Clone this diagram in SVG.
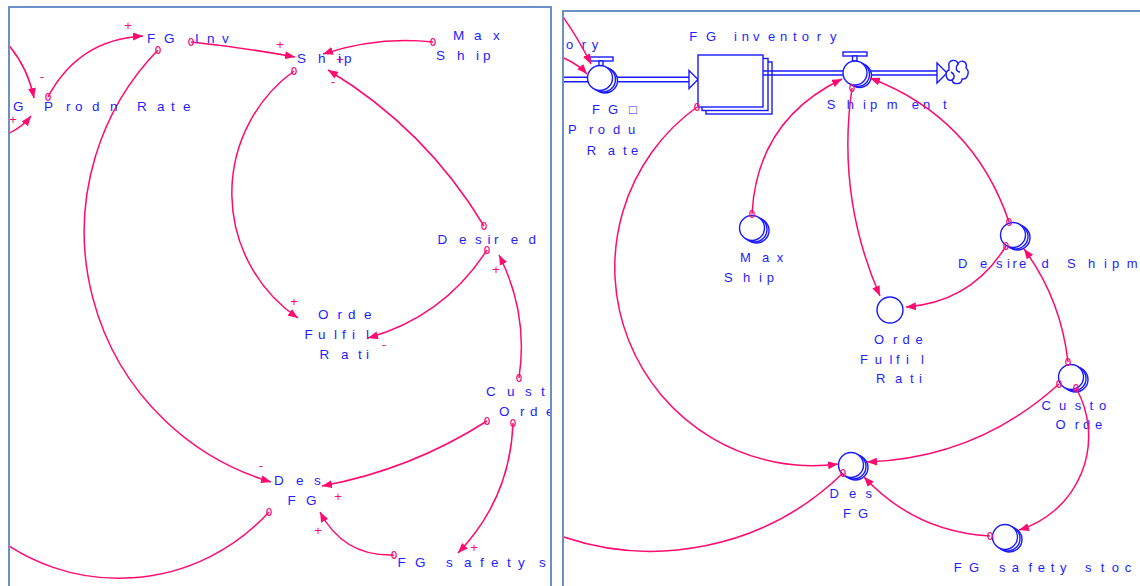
<svg xmlns="http://www.w3.org/2000/svg" width="1140" height="586" viewBox="0 0 1140 586">
<style>
.fr{fill:#fff;stroke:#6a8fc9;stroke-width:2}
.tx{font-family:"Liberation Sans",Arial,sans-serif;fill:#1e1eff}
.tl{font-size:13.5px}
.trt{font-size:13px}
.pl{font-family:"Liberation Sans",Arial,sans-serif;font-size:13px;fill:#ff0a6e;text-anchor:middle}
.c{fill:none;stroke:#ff0a6e;stroke-width:1.5;marker-end:url(#ah)}
.n{fill:none;stroke:#ff0a6e;stroke-width:1.5}
.t{marker-start:url(#tail)}
.b{fill:#fff;stroke:#1a1aff;stroke-width:1.4}
.p{fill:none;stroke:#1a1aff;stroke-width:1.5}
</style>
<defs>
<marker id="ah" viewBox="0 0 10 8" refX="10" refY="4" markerWidth="10" markerHeight="8" markerUnits="userSpaceOnUse" orient="auto"><path d="M0,0 L10,4 L0,8 z" fill="#ff0a6e"/></marker>
<marker id="tail" viewBox="0 0 8 10" refX="4" refY="5" markerWidth="8" markerHeight="10" markerUnits="userSpaceOnUse" orient="0"><ellipse cx="4" cy="5" rx="2.2" ry="3.5" fill="none" stroke="#ff0a6e" stroke-width="1.2"/></marker>
<clipPath id="clipL"><rect x="10" y="8" width="540" height="578"/></clipPath>
<clipPath id="clipR"><rect x="564" y="12" width="576" height="574"/></clipPath>
<clipPath id="cutL1"><rect x="0" y="0" width="372" height="586"/></clipPath>
<clipPath id="cutR1"><rect x="560" y="0" width="368" height="586"/></clipPath>
<clipPath id="cutR2"><rect x="560" y="0" width="548" height="586"/></clipPath>
</defs>
<rect x="0" y="0" width="1140" height="586" fill="#fff"/>

<!-- LEFT PANEL -->
<rect class="fr" x="9" y="7" width="542" height="620"/>
<g clip-path="url(#clipL)">
<g id="left-connectors">
<path class="c" d="M4,40 Q27,64 34,98"/>
<path class="c" d="M2,136 Q20,130 31,116"/>
<path class="c t" d="M48,97 Q78.5,39.5 143,36"/>
<path class="c t" d="M191,42 Q243,47.5 295,57"/>
<path class="c t" d="M158,50 A261,261 0 0 0 271,482"/>
<path class="c t" d="M294,71 A151,151 0 0 0 298,318"/>
<path class="c t" d="M433,42 Q378,36 323,54"/>
<path class="c t" d="M484,226 Q425.4,128.6 328,70"/>
<path class="c t" d="M487,250 Q444.1,316.6 368,338"/>
<path class="c t" d="M519,378 Q528.7,313.3 499,255"/>
<path class="c t" d="M487,421 Q410.9,469.7 322,486"/>
<path class="c t" d="M513,423 Q510.3,498.6 458,553"/>
<path class="c t" d="M394,555 Q343.6,556.7 320,512"/>
<path class="n t" d="M269,512 A203,203 0 0 1 -11.6,530.8"/>
<text class="pl" x="42" y="81">-</text>
<text class="pl" x="13" y="123.5">+</text>
<text class="pl" x="128" y="29.5">+</text>
<text class="pl" x="280" y="48.5">+</text>
<text class="pl" x="340" y="63.5">+</text>
<text class="pl" x="333" y="86">-</text>
<text class="pl" x="294" y="305.5">+</text>
<text class="pl" x="384" y="349">-</text>
<text class="pl" x="496" y="273.5">+</text>
<text class="pl" x="261" y="470">-</text>
<text class="pl" x="338" y="500.5">+</text>
<text class="pl" x="474" y="552">+</text>
<text class="pl" x="318" y="534.5">+</text>
</g>
<g id="L-fg-inv"><text class="tx tl" x="147 164 180 195 207 222" y="43">FG Inv</text></g>
<g id="L-prodn-rate"><text class="tx tl" x="13 30 44 66 75 92 110 125 137 157 171 183" y="111">G Prodn Rate</text></g>
<g id="L-ship"><text class="tx tl" x="297 318 338 344" y="63">Ship</text></g>
<g id="L-max-ship"><text class="tx tl" x="453 474 493" y="40">Max</text><text class="tx tl" x="436 457 476 483" y="60">Ship</text></g>
<g id="L-desired"><text class="tx tl" x="437.5 459 475 487.5 494 510.7 528.6" y="244">Desired</text></g>
<g id="L-order-fulfil" clip-path="url(#cutL1)"><text class="tx tl" x="318 337.5 348 364" y="319">Orde</text><text class="tx tl" x="304.6 318 334 342 352 366" y="339">Fulfil</text><text class="tx tl" x="319.6 341 358 366" y="359">Rati</text></g>
<g id="L-cust-orders"><text class="tx tl" x="486 507 525 541" y="396">Cust</text><text class="tx tl" x="499 520 530 546" y="416">Orde</text></g>
<g id="L-des-fg"><text class="tx tl" x="274 296 314" y="485">Des</text><text class="tx tl" x="287.5 306" y="505">FG</text></g>
<g id="L-fg-safety"><text class="tx tl" x="397.5 415 430 446 464 480 491 507 518 530 539" y="567">FG safety s</text></g>
</g>

<!-- RIGHT PANEL -->
<rect class="fr" x="563" y="11" width="620" height="620"/>
<g clip-path="url(#clipR)">
<g id="flows">
<line class="p" x1="555" y1="77.3" x2="690" y2="77.3"/>
<line class="p" x1="555" y1="81.7" x2="690" y2="81.7"/>
<path class="b" d="M689,70.5 L698,79.5 L689,88.5 Z"/>
<line class="p" x1="763" y1="71" x2="938" y2="71"/>
<line class="p" x1="763" y1="75" x2="938" y2="75"/>
<path class="b" d="M937,63 L947,73 L937,83 Z"/>
</g>
<g id="cloud">
<path class="b" d="M949,66 C947,60 957,58 958,64 C960,59 968,61 966,68 C970,71 968,80 962,79 C962,85 953,85 952,80 C946,82 944,72 949,70 Z"/>
<path class="p" d="M958,64 C955,67 956,72 960,72 M952,80 C955,78 955,74 951,72"/>
</g>
<g id="R-fg-inventory">
<rect class="b" x="706" y="62" width="66" height="52"/>
<rect class="b" x="702" y="58.5" width="66" height="52"/>
<rect class="b" x="698" y="55" width="65" height="52"/>
<line class="p" x1="763" y1="71" x2="773" y2="71"/>
<line class="p" x1="763" y1="75" x2="773" y2="75"/>
<text class="tx trt" x="689.3 706 720 734 741.7 753 768 780 793 801.7 816.7 830" y="41">FG inventory</text>
</g>
<g id="R-fg-prodn-rate">
<rect class="b" x="590" y="57" width="23" height="4"/>
<rect class="b" x="599" y="61" width="4" height="5"/>
<circle class="b" cx="605" cy="80.5" r="12.5"/>
<circle class="b" cx="603" cy="79.5" r="12.5"/>
<circle class="b" cx="600" cy="78" r="12.5"/>
<text class="tx trt" x="592 608 629" y="114">FG□</text>
<text class="tx trt" x="568 589 597.7 613 628" y="134.3">Produ</text>
<text class="tx trt" x="586.7 607.7 623 631" y="155">Rate</text>
<text class="tx trt" x="566 581.7 591.7" y="49">ory</text>
</g>
<g id="R-shipment">
<rect class="b" x="843" y="52" width="24" height="4"/>
<rect class="b" x="852.5" y="56" width="4.5" height="5"/>
<circle class="b" cx="859.5" cy="75.5" r="12"/>
<circle class="b" cx="857.5" cy="74.5" r="12"/>
<circle class="b" cx="855" cy="73" r="12"/>
<text class="tx trt" x="826.7 846.7 863 870 886.7 911.7 923 943" y="109">Shipment</text>
</g>
<g id="R-max-ship">
<circle class="b" cx="756.5" cy="230.5" r="12.5"/>
<circle class="b" cx="754.5" cy="229.5" r="12.5"/>
<circle class="b" cx="752" cy="228" r="12.5"/>
<text class="tx trt" x="740 762 776.7" y="262.3">Max</text>
<text class="tx trt" x="724 743 759 766.7" y="282.3">Ship</text>
</g>
<g id="R-order-fulfil">
<circle class="b" cx="890" cy="310" r="13"/>
<g clip-path="url(#cutR1)">
<text class="tx trt" x="874 893 902.6 915.6" y="344.3">Orde</text>
<text class="tx trt" x="860 874.8 889.6 896 906 921" y="364.3">Fulfil</text>
<text class="tx trt" x="876 895 910 919" y="383.3">Rati</text>
</g>
</g>
<g id="R-desired-shipment">
<circle class="b" cx="1017.5" cy="237.5" r="12.5"/>
<circle class="b" cx="1015.5" cy="236.5" r="12.5"/>
<circle class="b" cx="1013" cy="235" r="12.5"/>
<text class="tx trt" x="958 980 996 1007 1012.6 1019 1041.5 1054 1067 1088 1104 1112 1126.7" y="268.3">Desired Shipm</text>
</g>
<g id="R-customer-orders">
<circle class="b" cx="1075.5" cy="379.5" r="12.5"/>
<circle class="b" cx="1073.5" cy="378.5" r="12.5"/>
<circle class="b" cx="1071" cy="377" r="12.5"/>
<g clip-path="url(#cutR2)">
<text class="tx trt" x="1041.5 1059 1074.8 1089.6 1099" y="410">Custo</text>
<text class="tx trt" x="1055.5 1074.8 1083 1095" y="429.3">Orde</text>
</g>
</g>
<g id="R-des-fg">
<circle class="b" cx="855.5" cy="467.5" r="12.5"/>
<circle class="b" cx="853.5" cy="466.5" r="12.5"/>
<circle class="b" cx="851" cy="465" r="12.5"/>
<text class="tx trt" x="829.6 849 865.6" y="498.3">Des</text>
<text class="tx trt" x="843 858" y="517.7">FG</text>
</g>
<g id="R-fg-safety">
<circle class="b" cx="1009.5" cy="539.5" r="12.5"/>
<circle class="b" cx="1007.5" cy="538.5" r="12.5"/>
<circle class="b" cx="1005" cy="537" r="12.5"/>
<text class="tx trt" x="953.7 969 984 999 1011.8 1028.5 1037.8 1050.7 1060 1072 1085 1100.7 1111.8 1124.8" y="571.7">FG safety stoc</text>
</g>
<g id="right-connectors">
<path class="c" d="M558,10 Q576,34 591,64"/>
<path class="c" d="M556,55 Q576,62 587,74"/>
<path class="c t" d="M697,107 A198,198 0 0 0 838,464"/>
<path class="c t" d="M852,88 Q836.3,196 880,296"/>
<path class="c t" d="M752,214 Q757,120 842,79"/>
<path class="c t" d="M1009,222 Q973.5,117.2 870,78"/>
<path class="c t" d="M1006,246 Q971.6,302.1 906,307"/>
<path class="c t" d="M1068,362 Q1060.8,298.7 1024,249"/>
<path class="c t" d="M1059,384 Q977.2,458.2 867,462"/>
<path class="c t" d="M1076,388 A98,98 0 0 1 1019,530"/>
<path class="c t" d="M990,536 Q915.2,531.9 864,477"/>
<path class="n t" d="M843,473 A275,275 0 0 1 550,532"/>
</g>
</g>
</svg>
